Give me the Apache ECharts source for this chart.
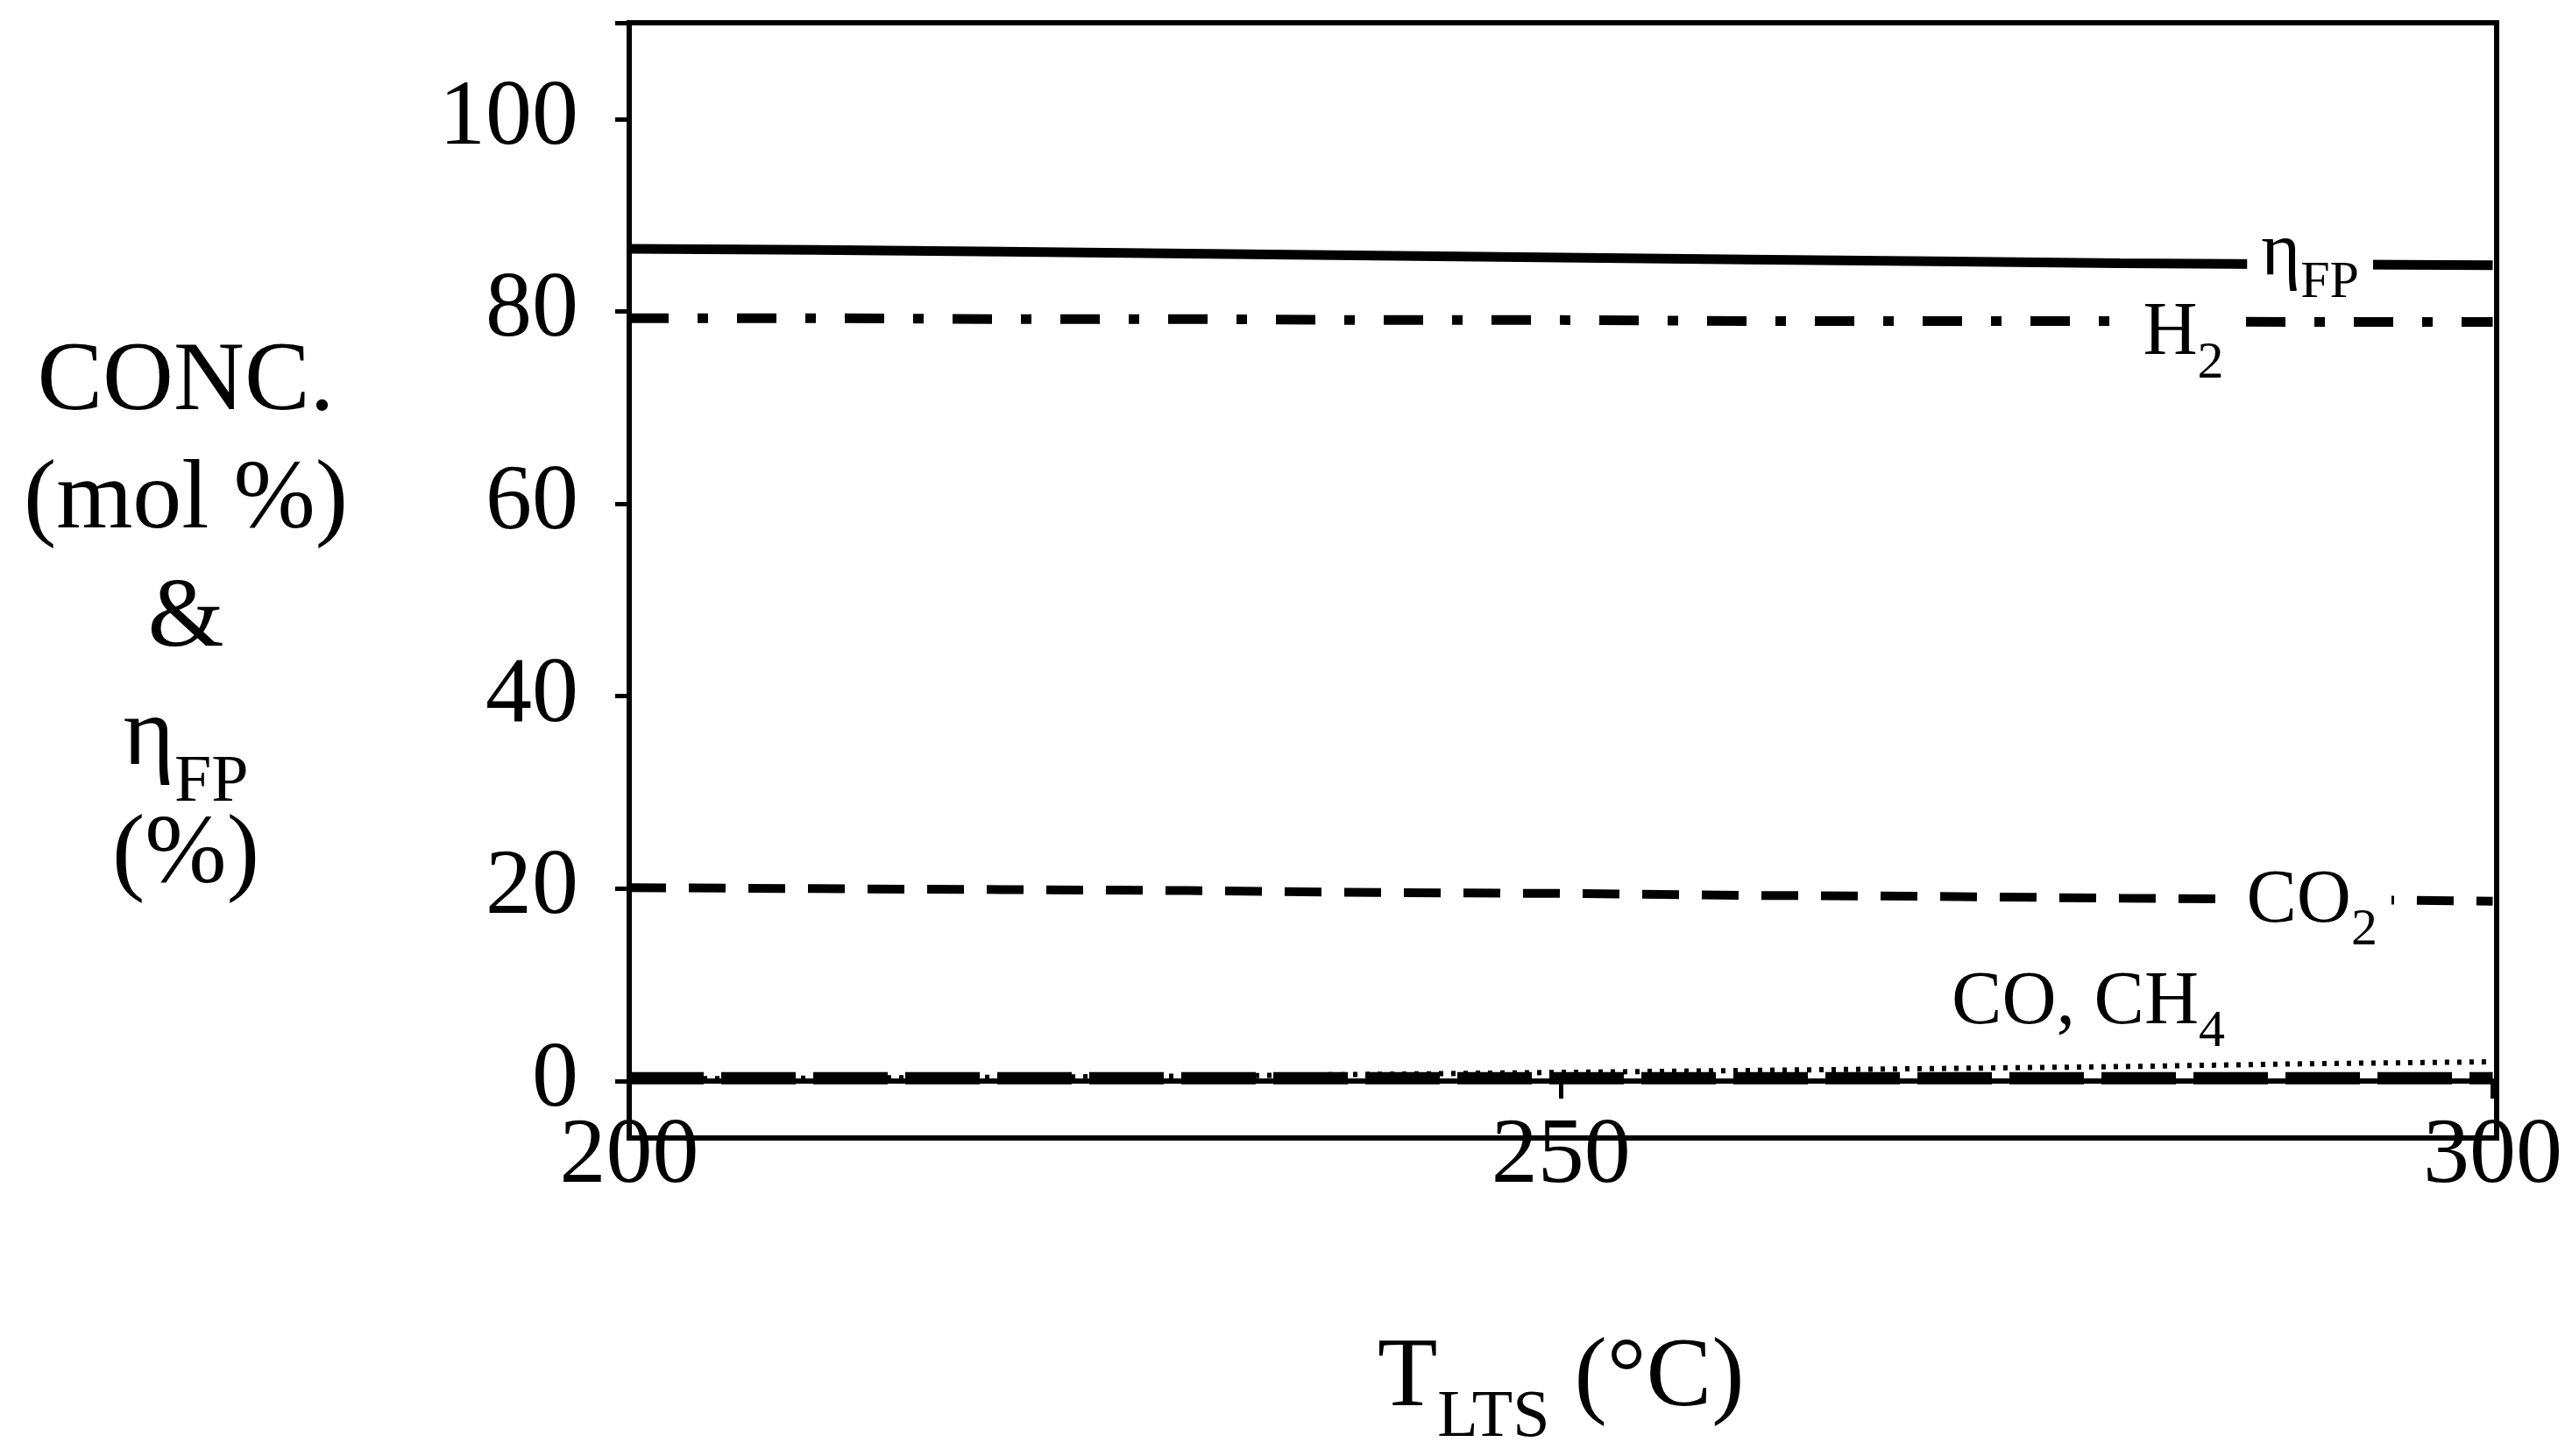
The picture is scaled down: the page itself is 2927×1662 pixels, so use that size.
<!DOCTYPE html>
<html><head><meta charset="utf-8">
<script src="https://cdn.jsdelivr.net/npm/echarts@6/dist/echarts.min.js"></script>
<style>html,body{margin:0;background:#fff}#c{width:2927px;height:1662px}</style>
</head><body><div id="c"></div>
<script>
const temps = [200, 210, 220, 230, 240, 250, 260, 270, 280, 290, 300];
const etaFP = [86.5, 86.4, 86.2, 86.0, 85.8, 85.6, 85.4, 85.2, 85.0, 84.9, 84.8];
const h2 = [79.3, 79.3, 79.2, 79.2, 79.1, 79.1, 79.0, 79.0, 79.0, 78.9, 78.9];
const co2 = [20.1, 20.0, 19.9, 19.8, 19.6, 19.5, 19.3, 19.2, 19.0, 18.9, 18.7];
const ch4 = [0.2, 0.3, 0.4, 0.5, 0.7, 0.9, 1.1, 1.3, 1.5, 1.8, 2.0];
const co = [0.3, 0.3, 0.3, 0.3, 0.3, 0.3, 0.3, 0.3, 0.3, 0.3, 0.3];
const xTicks = [200, 250, 300];
const yTicks = [0, 20, 40, 60, 80, 100];

const F = 'Liberation Serif';
const rich = {
  n:{fontFamily:F,fontSize:86,color:'#000'},
  s:{fontFamily:F,fontSize:60,color:'#000',verticalAlign:'bottom',padding:[0,0,-20,0]}
};
function lbl(x,y,txt){
  return {coord:[x,y],symbol:'rect',symbolSize:1,itemStyle:{color:'rgba(0,0,0,0)'},
    label:{show:true,position:'inside',formatter:txt,rich,backgroundColor:'#fff',padding:[0,16,0,16]}};
}
function ser(name,data,type,w,labels){
  return {name,type:'line',data:temps.map((t,i)=>[t,data[i]]),showSymbol:false,silent:true,
    lineStyle:{color:'#000',width:w,type,cap:'butt'},z:2,
    markPoint:labels?{silent:true,data:labels,animation:false}:undefined};
}
const chart = echarts.init(document.getElementById('c'));
chart.setOption({
  animation:false,
  grid:{left:718,right:78,top:26,bottom:363},
  xAxis:{type:'value',min:200,max:300,interval:50,
    axisLine:{lineStyle:{color:'#000',width:6}},
    axisTick:{show:true,length:20,lineStyle:{color:'#000',width:5}},
    axisLabel:{fontFamily:F,fontSize:106,color:'#000',margin:34},
    splitLine:{show:false},
    name:'{n|T}{s|LTS}{n| (°C)}',nameLocation:'middle',nameGap:285,
    nameTextStyle:{rich:{n:{fontFamily:F,fontSize:112,color:'#000'},s:{fontFamily:F,fontSize:76,color:'#000',verticalAlign:'bottom',padding:[0,0,-26,0]}}}},
  yAxis:{type:'value',min:0,max:110,interval:20,
    axisLine:{show:true,lineStyle:{color:'#000',width:6}},
    axisTick:{show:true,length:16,lineStyle:{color:'#000',width:5}},
    axisLabel:{fontFamily:F,fontSize:106,color:'#000',margin:58,formatter:v=>v>100?'':v},
    splitLine:{show:false}},
  graphic:[
    {type:'rect',shape:{x:718,y:26,width:2131,height:1273},style:{fill:'none',stroke:'#000',lineWidth:6},z:10},
    {type:'text',z:10,style:{x:212,y:370,text:'CONC.\n(mol %)\n&\n{n|η}{s|FP}\n(%)',align:'center',verticalAlign:'top',
      fontFamily:F,fontSize:112,lineHeight:135,fill:'#000',
      rich:{n:{fontFamily:F,fontSize:112,lineHeight:135},s:{fontFamily:F,fontSize:76,lineHeight:135,verticalAlign:'bottom',padding:[0,0,-22,0]}}}}
  ],
  series:[
    ser('ηFP',etaFP,'solid',11,[lbl(290.2,85.9,'{n|η}{s|FP}')]),
    ser('H2',h2,[45,33,12,33],11,[lbl(283.4,77.6,'{n|H}{s|2}')]),
    ser('CO2',co2,[42,26],10,[lbl(290.3,18.6,'{n|CO}{s|2}')]),
    ser('CH4',ch4,[5,9],6,[lbl(278.3,8.1,'{n|CO, CH}{s|4}')]),
    ser('CO',co,[85,20],14)
  ]
});
</script></body></html>
